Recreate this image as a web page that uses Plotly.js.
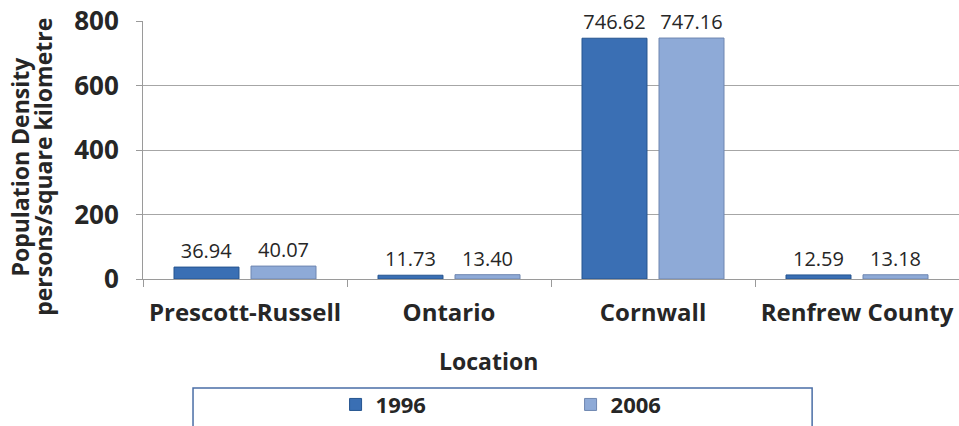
<!DOCTYPE html>
<html>
<head>
<meta charset="utf-8">
<script src="https://cdn.plot.ly/plotly-3.0.1.min.js"></script>
<style>html,body{margin:0;padding:0;background:#fff;}#chart{width:959px;height:426px;}</style>
</head>
<body>
<div id="chart"></div>
<script>
var locations = ["Prescott-Russell", "Ontario", "Cornwall", "Renfrew County"];
var density1996 = [36.94, 11.73, 746.62, 12.59];
var density2006 = [40.07, 13.40, 747.16, 13.18];
var seriesNames = ["1996", "2006"];
var yTicks = [0, 200, 400, 600, 800];

var FONT = "Open Sans, Liberation Sans, sans-serif";
var TXT = "#262626";

function barTrace(name, values, fill, edge) {
  return {
    type: "bar", name: name, x: locations, y: values,
    marker: {color: fill, line: {color: edge, width: 1}},
    texttemplate: "%{y:.2f}", textposition: "outside", cliponaxis: false,
    constraintext: "none",
    textfont: {family: FONT, size: 20, color: TXT}
  };
}

var traces = [
  barTrace(seriesNames[0], density1996, "#3a6fb4", "#25548f"),
  barTrace(seriesNames[1], density2006, "#8eaad7", "#6e86b0")
];

var layout = {
  width: 959, height: 426,
  margin: {l: 143, r: 0, t: 21, b: 142},
  paper_bgcolor: "#ffffff", plot_bgcolor: "#ffffff",
  barmode: "group", bargap: 0.245, bargroupgap: 0.156,
  showlegend: true,
  legend: {
    orientation: "h", x: 0.236, xanchor: "left", y: -0.487, yanchor: "middle",
    font: {family: FONT, size: 22, color: TXT, weight: 700},
    entrywidth: 190, entrywidthmode: "pixels",
    bgcolor: "rgba(0,0,0,0)", borderwidth: 0
  },
  xaxis: {
    type: "category", tickson: "boundaries", ticks: "outside", ticklen: 7,
    tickcolor: "#9a9a9a", showline: true, linecolor: "#9a9a9a", linewidth: 1,
    showgrid: false, ticklabelstandoff: 12,
    tickfont: {family: FONT, size: 24, color: TXT, weight: 700}
  },
  yaxis: {
    range: [0, 800], tickvals: yTicks, ticks: "outside", ticklen: 6,
    tickcolor: "#9a9a9a", showline: true, linecolor: "#9a9a9a", linewidth: 1,
    showgrid: true, gridcolor: "#a6a6a6", gridwidth: 1, zeroline: false,
    ticklabelstandoff: 12,
    tickfont: {family: FONT, size: 26, color: TXT, weight: 700}
  },
  annotations: [
    {text: "Population Density", xref: "paper", yref: "paper", x: -0.151, y: 0.435,
     xanchor: "center", yanchor: "middle", textangle: -90, showarrow: false,
     font: {family: FONT, size: 23, color: TXT, weight: 700}},
    {text: "persons/square kilometre", xref: "paper", yref: "paper", x: -0.1225, y: 0.435,
     xanchor: "center", yanchor: "middle", textangle: -90, showarrow: false,
     font: {family: FONT, size: 23, color: TXT, weight: 700}},
    {text: "Location", xref: "paper", yref: "paper", x: 0.424, y: -0.318,
     xanchor: "center", yanchor: "middle", showarrow: false,
     font: {family: FONT, size: 23, color: TXT, weight: 700}}
  ],
  shapes: [
    {type: "rect", xref: "paper", yref: "paper", x0: 0.0613, x1: 0.82, y0: -0.62, y1: -0.422,
     line: {color: "#4a6ea6", width: 1.5}, fillcolor: "rgba(0,0,0,0)", layer: "below"}
  ]
};

Plotly.newPlot("chart", traces, layout, {staticPlot: true, displayModeBar: false});
</script>
</body>
</html>
